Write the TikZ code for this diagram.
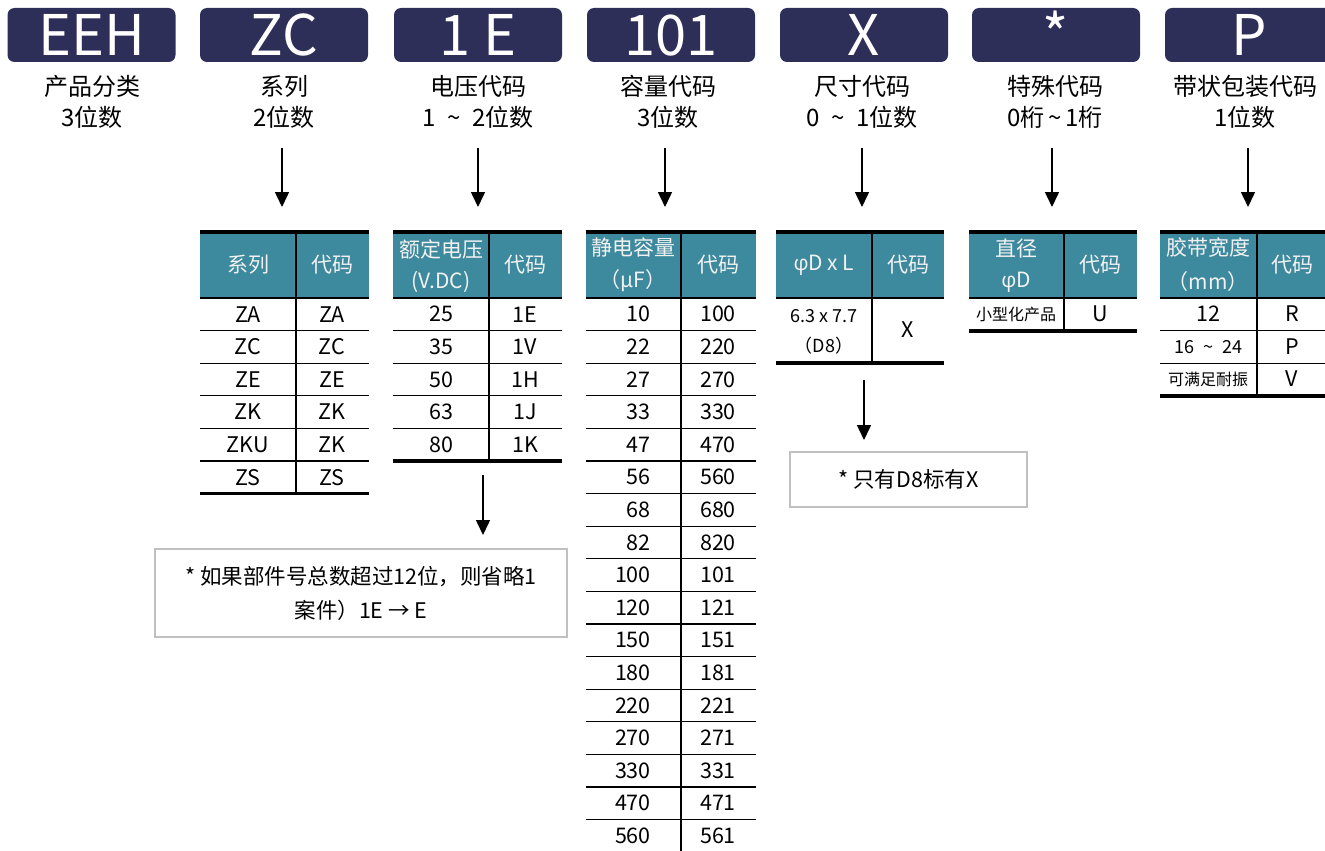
\documentclass[tikz,border=0pt]{standalone}
\usepackage{fontspec}
\setmainfont{Noto Sans CJK SC}
\newfontfamily\phifont{Open Sans}
\usetikzlibrary{arrows.meta}
\definecolor{navy}{HTML}{2E2F59}
\definecolor{tealh}{HTML}{3D899D}
\definecolor{notegray}{HTML}{C0C0C0}
\newcommand{\tsep}[1]{\hspace{#1pt}\textasciitilde\hspace{#1pt}}
\begin{document}
\begin{tikzpicture}[x=1pt,y=-1pt,
  hbox/.style={fill=navy, rounded corners=7pt, minimum width=168pt, minimum height=54pt,
    inner sep=0pt, text=white, font=\fontsize{56}{56}\selectfont, text height=41pt, text depth=0pt},
  lab/.style={anchor=base, inner sep=0pt, font=\fontsize{24}{28}\selectfont},
  conn/.style={line width=1.5pt, -{Triangle[width=14pt,length=15pt]}},
  thickrule/.style={line width=3.6pt},
  thinrule/.style={line width=1.3pt},
  th/.style={text=white!95!black, inner sep=0pt, font=\fontsize{21}{24}\selectfont},
  td/.style={inner sep=0pt, font=\fontsize{21.5}{24}\selectfont},
  tds/.style={inner sep=0pt, font=\fontsize{18}{20}\selectfont},
  notebox/.style={draw=notegray, line width=2pt, inner sep=0pt, align=center,
    font=\fontsize{21.5}{34}\selectfont}
]
\useasboundingbox (0,0) rectangle (1325,851);

% ---------- header boxes ----------
\node[hbox] (bEEH) at (91.5,35) {EEH};
\node[hbox] (bZC)  at (284,35)  {ZC};
\node[hbox] (b1E)  at (478,35)  {1 E};
\node[hbox] (b101) at (671,35)  {101};
\node[hbox] (bX)   at (864,35)  {X};
\node[hbox] (bS)   at (1056,35) {*};
\node[hbox] (bP)   at (1249,35) {P};

% ---------- labels ----------
\node[lab] (l1a) at (92,95.5)  {产品分类};
\node[lab] (l1b) at (92,126.5) {3位数};
\node[lab] (l2a) at (284,95.5)  {系列};
\node[lab] (l2b) at (284,126.5) {2位数};
\node[lab] (l3a) at (478,95.5)  {电压代码};
\node[lab] (l3b) at (478,126.5) {1\tsep{12}2位数};
\node[lab] (l4a) at (668,95.5)  {容量代码};
\node[lab] (l4b) at (668,126.5) {3位数};
\node[lab] (l5a) at (862,95.5)  {尺寸代码};
\node[lab] (l5b) at (862,126.5) {0\tsep{12}1位数};
\node[lab] (l6a) at (1055,95.5)  {特殊代码};
\node[lab] (l6b) at (1055,126.5) {0桁\tsep{4}1桁};
\node[lab] (l7a) at (1245,95.5)  {带状包装代码};
\node[lab] (l7b) at (1245,126.5) {1位数};

% ---------- arrows from labels to tables ----------
\foreach \ax [count=\i] in {282,478,665,862,1052,1248}{
  \coordinate (as\i) at (\ax,148);
  \coordinate (ae\i) at (\ax,207);
  \draw[conn] (as\i) -- (ae\i);
}

% ---------- series table ----------
\fill[tealh] (200,232) rectangle (369,298);
\draw[thickrule] (200,232) -- (369,232);
\draw[thinrule] (200,298) -- (369,298);
\foreach \k in {1,...,5}{\draw[thinrule] (200,{298+\k*32.6}) -- (369,{298+\k*32.6});}
\draw[thickrule] (200,493.6) -- (369,493.6);
\draw[thinrule] (296,232) -- (296,493.6);
\node[th] (serh1) at (248,265) {系列};
\node[th] (serh2) at (332,265) {代码};
\foreach \a/\b [count=\i] in {ZA/ZA,ZC/ZC,ZE/ZE,ZK/ZK,ZKU/ZK,ZS/ZS}{
  \node[td] (ser\i a) at (248,{298+(\i-0.5)*32.6}) {\a};
  \node[td] (ser\i b) at (332,{298+(\i-0.5)*32.6}) {\b};
}

% ---------- voltage table ----------
\fill[tealh] (393,232) rectangle (562,298);
\draw[thickrule] (393,232) -- (562,232);
\draw[thinrule] (393,298) -- (562,298);
\foreach \k in {1,...,4}{\draw[thinrule] (393,{298+\k*32.6}) -- (562,{298+\k*32.6});}
\draw[thickrule] (393,461) -- (562,461);
\draw[thinrule] (489,232) -- (489,461);
\node[th] (volh1) at (441,249) {额定电压};
\node[th] (volh1b) at (441,282) {(V.DC)};
\node[th] (volh2) at (525,265) {代码};
\foreach \a/\b [count=\i] in {25/1E,35/1V,50/1H,63/1J,80/1K}{
  \node[td] (vol\i a) at (441,{298+(\i-0.5)*32.6}) {\a};
  \node[td] (vol\i b) at (525,{298+(\i-0.5)*32.6}) {\b};
}

% ---------- capacitance table ----------
\fill[tealh] (586,232) rectangle (756,298);
\draw[thickrule] (586,232) -- (756,232);
\draw[thinrule] (586,298) -- (756,298);
\foreach \k in {1,...,16}{\draw[thinrule] (586,{298+\k*32.6}) -- (756,{298+\k*32.6});}
\draw[thinrule] (681,232) -- (681,853);
\node[th] (caph1) at (633,247) {静电容量};
\node[th] (caph1b) at (633,281) {（μF）};
\node[th] (caph2) at (718,265) {代码};
\foreach \a/\b [count=\i] in {10/100,22/220,27/270,33/330,47/470,56/560,68/680,82/820,100/101,120/121,150/151,180/181,220/221,270/271,330/331,470/471,560/561}{
  \node[td,anchor=east] (cap\i a) at (651,{298+(\i-0.5)*32.6}) {\a};
  \node[td] (cap\i b) at (718,{298+(\i-0.5)*32.6}) {\b};
}

% ---------- size table ----------
\fill[tealh] (776,232) rectangle (944,298);
\draw[thickrule] (776,232) -- (944,232);
\draw[thinrule] (776,298) -- (944,298);
\draw[thickrule] (776,363) -- (944,363);
\draw[thinrule] (872,232) -- (872,363);
\node[th] (sizh1) at (824,265) {{\phifont φ}D x L};
\node[th] (sizh2) at (908,265) {代码};
\node[tds] (siz1a) at (824,316) {6.3 x 7.7};
\node[tds] (siz1b) at (824,346) {（D8）};
\node[td] (siz1c) at (908,330) {X};

% ---------- special table ----------
\fill[tealh] (969,232) rectangle (1137,298);
\draw[thickrule] (969,232) -- (1137,232);
\draw[thinrule] (969,298) -- (1137,298);
\draw[thickrule] (969,331) -- (1137,331);
\draw[thinrule] (1064,232) -- (1064,331);
\node[th] (sph1) at (1016,249) {直径};
\node[th] (sph1b) at (1016,282) {{\phifont φ}D};
\node[th] (sph2) at (1100,265) {代码};
\node[inner sep=0pt, font=\fontsize{16}{18}\selectfont] (sp1a) at (1016,314) {小型化产品};
\node[td] (sp1b) at (1100,314) {U};

% ---------- tape table ----------
\fill[tealh] (1160,232) rectangle (1330,298);
\draw[thickrule] (1160,232) -- (1330,232);
\draw[thinrule] (1160,298) -- (1330,298);
\draw[thinrule] (1160,330.6) -- (1330,330.6);
\draw[thinrule] (1160,363.2) -- (1330,363.2);
\draw[thickrule] (1160,396) -- (1330,396);
\draw[thinrule] (1257,232) -- (1257,396);
\node[th] (tph1) at (1208,248) {胶带宽度};
\node[th] (tph1b) at (1208,282) {（mm）};
\node[th] (tph2) at (1292,265) {代码};
\node[td] (tp1a) at (1208,314) {12};
\node[td] (tp1b) at (1292,314) {R};
\node[inner sep=0pt, font=\fontsize{18}{20}\selectfont] (tp2a) at (1208,347) {16\tsep{9}24};
\node[td] (tp2b) at (1292,347) {P};
\node[inner sep=0pt, font=\fontsize{16}{18}\selectfont] (tp3a) at (1208,379) {可满足耐振};
\node[td] (tp3b) at (1292,379) {V};

% ---------- notes ----------
\node[notebox, minimum width=412pt, minimum height=88pt] (n1) at (361,593)
  {* 如果部件号总数超过12位，则省略1\\案件）1E → E};
\node[notebox, minimum width=237pt, minimum height=55pt] (n2) at (908.5,479.5)
  {* 只有D8标有X};

\coordinate (vs) at (483,475);
\coordinate (ve) at (483,535);
\draw[conn] (vs) -- (ve);
\coordinate (ss) at (864,380);
\coordinate (se) at (864,440);
\draw[conn] (ss) -- (se);
\end{tikzpicture}
\end{document}
